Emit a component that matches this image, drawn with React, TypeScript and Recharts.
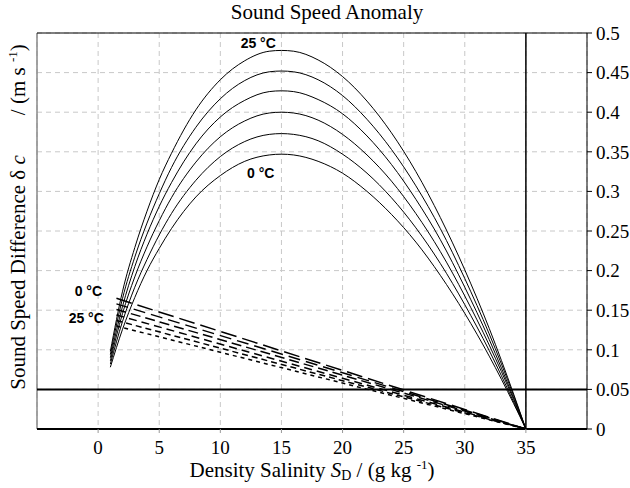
import {
  LineChart,
  Line,
  XAxis,
  YAxis,
  CartesianGrid,
  ReferenceLine,
  ReferenceDot,
} from "recharts";

const SOLID_S = [1, 2, 3, 4, 5, 6, 8, 10, 12, 14, 15, 16, 18, 20, 22, 24, 26, 28, 30, 32, 34, 35];
const SOLID_0C = [0.078, 0.126, 0.166, 0.2, 0.228, 0.253, 0.293, 0.32, 0.338, 0.346, 0.347, 0.346, 0.338, 0.323, 0.3, 0.271, 0.236, 0.194, 0.146, 0.092, 0.032, 0];
const SOLID_5C = [0.082, 0.136, 0.179, 0.214, 0.245, 0.272, 0.314, 0.344, 0.363, 0.372, 0.373, 0.372, 0.364, 0.347, 0.323, 0.292, 0.254, 0.209, 0.157, 0.099, 0.034, 0];
const SOLID_10C = [0.086, 0.146, 0.192, 0.23, 0.263, 0.292, 0.337, 0.369, 0.389, 0.399, 0.4, 0.399, 0.39, 0.372, 0.346, 0.313, 0.272, 0.224, 0.168, 0.106, 0.037, 0];
const SOLID_15C = [0.09, 0.155, 0.205, 0.246, 0.281, 0.311, 0.36, 0.394, 0.415, 0.426, 0.427, 0.426, 0.416, 0.398, 0.37, 0.334, 0.29, 0.239, 0.179, 0.113, 0.039, 0];
const SOLID_20C = [0.094, 0.165, 0.217, 0.26, 0.297, 0.33, 0.381, 0.417, 0.44, 0.451, 0.452, 0.451, 0.441, 0.421, 0.391, 0.353, 0.307, 0.253, 0.19, 0.12, 0.042, 0];
const SOLID_25C = [0.098, 0.174, 0.229, 0.275, 0.315, 0.348, 0.403, 0.441, 0.465, 0.477, 0.478, 0.477, 0.466, 0.445, 0.414, 0.374, 0.325, 0.267, 0.201, 0.127, 0.044, 0];

// dashed (approximation) lines
const DASH_S = [1.5, 20, 35];
const DASH_0C = [0.165, 0.074, 0];
const DASH_5C = [0.158, 0.071, 0];
const DASH_10C = [0.151, 0.068, 0];
const DASH_15C = [0.144, 0.064, 0];
const DASH_20C = [0.137, 0.061, 0];
const DASH_25C = [0.13, 0.058, 0];

const X_TICKS = [0, 5, 10, 15, 20, 25, 30, 35];
const Y_TICKS = [0, 0.05, 0.1, 0.15, 0.2, 0.25, 0.3, 0.35, 0.4, 0.45, 0.5];

const SOLID = [SOLID_0C, SOLID_5C, SOLID_10C, SOLID_15C, SOLID_20C, SOLID_25C];
const DASHED = [DASH_0C, DASH_5C, DASH_10C, DASH_15C, DASH_20C, DASH_25C];
const DASH_PATTERNS = ["16 6", "12 6", "10 5", "8 5", "6 4", "4 4"];

const toRows = (xs: number[], ys: number[]) => xs.map((s, i) => ({ s, v: ys[i] }));

const SERIF = "'Liberation Serif', 'Times New Roman', serif";
const SANS = "'Liberation Sans', Arial, sans-serif";

const tempLabel = { fontSize: 14, fontWeight: "bold", fontFamily: SANS, fill: "#000" };

export default function App() {
  return (
    <div style={{ position: "absolute", left: 0, top: 0, width: 630, height: 488, background: "#fff" }}>
      <LineChart
        width={630}
        height={488}
        margin={{ top: 33, right: 0, bottom: 0, left: 37 }}
      >
        <CartesianGrid stroke="#c8c8c8" strokeDasharray="5 4" />
        <XAxis
          dataKey="s"
          type="number"
          domain={[-5, 40]}
          ticks={X_TICKS}
          allowDataOverflow
          height={59}
          axisLine={{ stroke: "#000", strokeWidth: 2 }}
          tickLine={{ stroke: "#999" }}
          tickSize={4}
          tickMargin={8}
          tick={{ fill: "#000", fontSize: 19, fontFamily: SERIF }}
        />
        <YAxis
          orientation="right"
          type="number"
          domain={[0, 0.5]}
          ticks={Y_TICKS}
          allowDataOverflow
          width={43}
          axisLine={{ stroke: "#000" }}
          tickLine={{ stroke: "#000" }}
          tickSize={5}
          tickMargin={4}
          tick={{ fill: "#000", fontSize: 19, fontFamily: SERIF }}
        />
        <ReferenceLine x={-5} stroke="#888" strokeWidth={1.5} />
        <ReferenceLine y={0.5} stroke="#000" strokeWidth={1} />
        <ReferenceLine y={0.05} stroke="#000" strokeWidth={2} />
        <ReferenceLine x={35} stroke="#000" strokeWidth={1.5} />
        {SOLID.map((vals, i) => (
          <Line
            key={"s" + i}
            data={toRows(SOLID_S, vals)}
            dataKey="v"
            type="monotone"
            stroke="#000"
            strokeWidth={1}
            dot={false}
            activeDot={false}
            isAnimationActive={false}
          />
        ))}
        {DASHED.map((vals, i) => (
          <Line
            key={"d" + i}
            data={toRows(DASH_S, vals)}
            dataKey="v"
            type="linear"
            stroke="#000"
            strokeWidth={1.5}
            strokeDasharray={DASH_PATTERNS[i]}
            dot={false}
            activeDot={false}
            isAnimationActive={false}
          />
        ))}
        <ReferenceDot x={13.1} y={0.487} r={1} fill="none" stroke="none" label={{ value: "25 °C", position: "center", ...tempLabel }} />
        <ReferenceDot x={13.3} y={0.323} r={1} fill="none" stroke="none" label={{ value: "0 °C", position: "center", ...tempLabel }} />
        <ReferenceDot x={-0.8} y={0.1745} r={1} fill="none" stroke="none" label={{ value: "0 °C", position: "center", ...tempLabel }} />
        <ReferenceDot x={-0.97} y={0.1396} r={1} fill="none" stroke="none" label={{ value: "25 °C", position: "center", ...tempLabel }} />
      </LineChart>
      <svg
        width={630}
        height={488}
        style={{ position: "absolute", left: 0, top: 0, pointerEvents: "none" }}
      >
        <text x={327} y={19} textAnchor="middle" fontSize={21} fontFamily={SERIF} fill="#000">
          Sound Speed Anomaly
        </text>
        <text x={312} y={477} textAnchor="middle" fontSize={21} fontFamily={SERIF} fill="#000">
          Density Salinity <tspan fontStyle="italic">S</tspan>
          <tspan fontSize={14} dy={3}>D</tspan>
          <tspan dy={-3}> / (g kg </tspan>
          <tspan fontSize={13} dy={-8}>-1</tspan>
          <tspan dy={8}>)</tspan>
        </text>
        <text
          transform="translate(25,217) rotate(-90)"
          textAnchor="middle"
          fontSize={21}
          fontFamily={SERIF}
          fill="#000"
        >
          Sound Speed Difference δ <tspan fontStyle="italic">c</tspan>
          <tspan dx={40}>/ (m s </tspan>
          <tspan fontSize={13} dy={-8}>-1</tspan>
          <tspan dy={8}>)</tspan>
        </text>
      </svg>
    </div>
  );
}
